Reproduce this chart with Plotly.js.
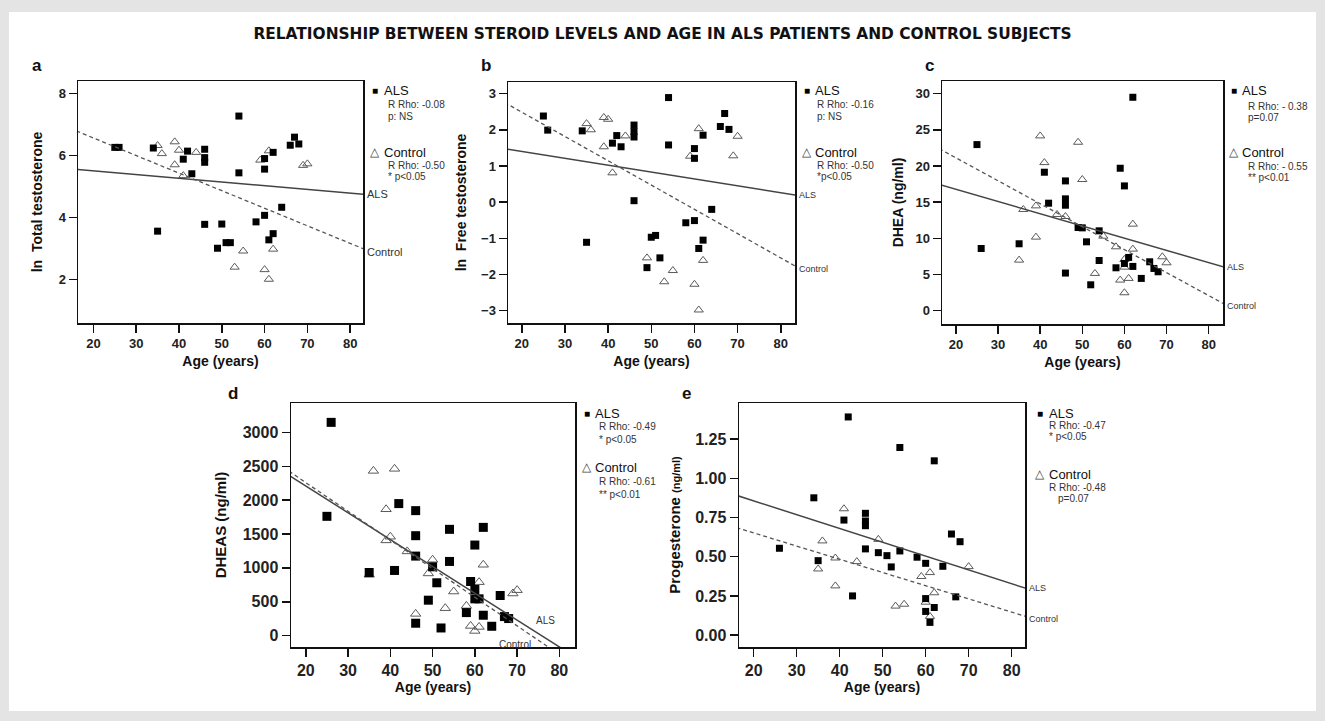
<!DOCTYPE html>
<html>
<head>
<meta charset="utf-8">
<script src="https://cdn.plot.ly/plotly-3.0.1.min.js"></script>
<style>html,body{margin:0;padding:0;background:#e4e4e4;}#chart{width:1325px;height:721px;}</style>
</head>
<body>
<div id="chart"></div>
<script>
// ---------------- DATA ----------------
const chartTitle = 'RELATIONSHIP BETWEEN STEROID LEVELS AND AGE IN ALS PATIENTS AND CONTROL SUBJECTS';
const panelLetters = ['a', 'b', 'c', 'd', 'e'];
const yTitles = ['ln  Total testosterone', 'ln  Free testosterone', 'DHEA (ng/ml)', 'DHEAS (ng/ml)',
                 'Progesterone <span style="font-size:11px">(ng/ml)</span>'];
const xTitle = 'Age (years)';
const ageTicks = [20, 30, 40, 50, 60, 70, 80];
const yTicksA = [2, 4, 6, 8];
const yTicksB = [-3, -2, -1, 0, 1, 2, 3];
const yTicksC = [0, 5, 10, 15, 20, 25, 30];
const yTicksD = [0, 500, 1000, 1500, 2000, 2500, 3000];
const yTicksE = [0, 0.25, 0.5, 0.75, 1.0, 1.25];

const seriesNames = ['ALS', 'Control'];
const rhoAls = ['R Rho: -0.08', 'R Rho: -0.16', 'R Rho: - 0.38', 'R Rho: -0.49', 'R Rho: -0.47'];
const pAls = ['p: NS', 'p: NS', 'p=0.07', '* p<0.05', '* p<0.05'];
const rhoCtrl = ['R Rho: -0.50', 'R Rho: -0.50', 'R Rho: - 0.55', 'R Rho: -0.61', 'R Rho: -0.48'];
const pCtrl = ['* p<0.05', '*p<0.05', '** p<0.01', '** p<0.01', 'p=0.07'];

// a: ln total testosterone
const alsAgeA = [25, 26, 34, 35, 41, 42, 43, 46, 46, 46, 46, 50, 49, 51, 52, 54, 54, 58, 60, 60, 60, 61, 62, 62, 64, 66, 67, 68];
const alsValA = [6.26, 6.26, 6.24, 3.56, 5.88, 6.14, 5.41, 6.20, 5.93, 5.78, 3.78, 3.79, 3.01, 3.19, 3.19, 7.27, 5.44, 3.86, 5.90, 5.56, 4.07, 3.28, 3.48, 6.10, 4.33, 6.33, 6.59, 6.37];
const ctrlAgeA = [35, 36, 39, 39, 40, 41, 44, 53, 55, 59, 60, 61, 61, 62, 69, 70];
const ctrlValA = [6.32, 6.06, 6.44, 5.70, 6.17, 5.35, 6.10, 2.40, 2.92, 5.85, 2.32, 6.15, 2.01, 2.98, 5.68, 5.73];

// b: ln free testosterone
const alsAgeB = [25, 26, 34, 35, 41, 42, 43, 46, 46, 46, 46, 49, 50, 51, 52, 54, 54, 58, 60, 60, 60, 61, 62, 62, 64, 66, 67, 68];
const alsValB = [2.38, 1.99, 1.97, -1.11, 1.63, 1.84, 1.53, 2.13, 1.95, 1.80, 0.04, -1.81, -0.97, -0.92, -1.54, 2.89, 1.58, -0.57, 1.48, 1.21, -0.51, -1.28, 1.85, -1.05, -0.20, 2.09, 2.45, 2.01];
const ctrlAgeB = [35, 36, 39, 39, 40, 41, 44, 49, 53, 55, 59, 60, 61, 61, 62, 69, 70];
const ctrlValB = [2.17, 2.00, 1.53, 2.34, 2.29, 0.81, 1.83, -1.54, -2.20, -1.89, 1.27, -2.27, 2.03, -2.98, -1.61, 1.28, 1.82];

// c: DHEA
const alsAgeC = [25, 26, 35, 41, 42, 46, 46, 46, 46, 49, 50, 51, 52, 54, 54, 58, 59, 60, 60, 61, 62, 62, 64, 66, 67, 68];
const alsValC = [22.96, 8.60, 9.25, 19.14, 14.86, 17.94, 15.46, 14.58, 5.20, 11.50, 11.45, 9.52, 3.58, 11.04, 6.94, 5.93, 19.69, 17.25, 6.53, 7.36, 29.50, 6.12, 4.46, 6.76, 5.84, 5.38];
const ctrlAgeC = [35, 36, 39, 39, 40, 41, 44, 46, 49, 50, 53, 55, 58, 59, 60, 60, 60, 61, 62, 62, 69, 70];
const ctrlValC = [6.99, 13.99, 10.17, 14.49, 24.16, 20.47, 13.30, 13.02, 23.28, 18.13, 5.15, 10.30, 8.83, 4.23, 7.08, 6.02, 2.48, 4.46, 11.96, 8.51, 7.45, 6.62];

// d: DHEAS
const alsAgeD = [26, 25, 35, 41, 42, 46, 46, 46, 46, 49, 50, 51, 52, 54, 54, 58, 59, 60, 60, 60, 61, 62, 62, 64, 66, 67, 68];
const alsValD = [3148, 1761, 932, 962, 1949, 1845, 1475, 1174, 183, 523, 1016, 780, 113, 1569, 1095, 340, 799, 1337, 681, 543, 543, 1598, 301, 138, 592, 281, 252];
const ctrlAgeD = [35, 36, 41, 39, 39, 40, 44, 46, 49, 50, 53, 55, 58, 59, 60, 61, 61, 62, 69, 70];
const ctrlValD = [898, 2432, 2462, 1865, 1406, 1460, 1243, 321, 918, 1120, 405, 651, 439, 143, 69, 128, 789, 1046, 622, 671];

// e: Progesterone
const alsAgeE = [26, 34, 35, 41, 42, 43, 46, 46, 46, 46, 49, 51, 52, 54, 54, 58, 60, 60, 60, 61, 62, 62, 64, 66, 67, 68];
const alsValE = [0.554, 0.876, 0.475, 0.734, 1.392, 0.250, 0.777, 0.728, 0.698, 0.550, 0.526, 0.507, 0.435, 0.537, 1.197, 0.497, 0.458, 0.233, 0.151, 0.081, 1.112, 0.176, 0.439, 0.645, 0.244, 0.596];
const ctrlAgeE = [35, 36, 39, 39, 41, 44, 49, 53, 55, 59, 60, 61, 61, 62, 70];
const ctrlValE = [0.422, 0.601, 0.314, 0.492, 0.806, 0.469, 0.611, 0.185, 0.197, 0.374, 0.210, 0.399, 0.119, 0.270, 0.437];

// regression line values at the two ages in fitAgeEnds
const fitAgeEnds = [16, 84];
const alsFitA = [5.555, 4.738],  ctrlFitA = [6.79, 2.94];
const alsFitB = [1.475, 0.187],  ctrlFitB = [2.754, -1.81];
const alsFitC = [17.46, 5.97],   ctrlFitC = [22.40, 0.82];
const alsFitD = [2368, -325],    ctrlFitD = [2428, -448];
const alsFitE = [0.892, 0.292],  ctrlFitE = [0.686, 0.113];

// ---------------- LAYOUT / STYLE ----------------
const W = 1325, H = 721;
const FONT = 'Liberation Sans, Arial, sans-serif';
const px = x => x / W;
const py = y => 1 - y / H;

const panels = [
  {box: [78, 81, 363, 323],   xr: [16.4, 83.0], yr: [0.6, 8.4],     yt: yTicksA, fmt: '',
   als: [alsAgeA, alsValA], ctrl: [ctrlAgeA, ctrlValA], fa: alsFitA, fc: ctrlFitA,
   tf: 13, ms: 7, ts: 8, letter: [37, 66], so: 13, leg: {mk: 375, tx: 382, sub: 386, ys: [91, 105, 116, 152, 165, 176]},
   lineLab: 'out', llSize: 11},
  {box: [508, 82, 795, 323],  xr: [16.8, 83.3], yr: [-3.34, 3.32],  yt: yTicksB, fmt: '',
   als: [alsAgeB, alsValB], ctrl: [ctrlAgeB, ctrlValB], fa: alsFitB, fc: ctrlFitB,
   tf: 13, ms: 7, ts: 8, letter: [486, 66], so: 11, leg: {mk: 807, tx: 813, sub: 815, ys: [91, 105, 116, 152, 165, 176]},
   lineLab: 'out', llSize: 9},
  {box: [942, 81, 1223, 324], xr: [16.7, 83.4], yr: [-1.84, 31.75], yt: yTicksC, fmt: '',
   als: [alsAgeC, alsValC], ctrl: [ctrlAgeC, ctrlValC], fa: alsFitC, fc: ctrlFitC,
   tf: 13, ms: 7, ts: 8, letter: [930, 66], so: 8, leg: {mk: 1234, tx: 1240, sub: 1246, ys: [91, 107, 117, 152, 166, 177]},
   lineLab: 'out', llSize: 9},
  {box: [291, 403, 575, 647], xr: [16.5, 83.7], yr: [-168, 3434],   yt: yTicksD, fmt: '',
   als: [alsAgeD, alsValD], ctrl: [ctrlAgeD, ctrlValD], fa: alsFitD, fc: ctrlFitD,
   tf: 16, ms: 9, ts: 9, letter: [233, 393], so: 12, leg: {mk: 587, tx: 593, sub: 597, ys: [413, 427, 440, 467, 481, 494]},
   lineLab: 'in', llSize: 10},
  {box: [739, 403, 1025, 647], xr: [16.6, 83.1], yr: [-0.076, 1.481], yt: yTicksE, fmt: '.2f',
   als: [alsAgeE, alsValE], ctrl: [ctrlAgeE, ctrlValE], fa: alsFitE, fc: ctrlFitE,
   tf: 16, ms: 7, ts: 8, letter: [686, 393], so: 11, leg: {mk: 1040, tx: 1047, sub: 1047, ys: [413, 426, 437, 474, 487, 498]},
   lineLab: 'out', llSize: 9}
];

const traces = [];
const annotations = [];
const layout = {
  width: W, height: H,
  margin: {l: 0, r: 0, t: 0, b: 0},
  paper_bgcolor: '#e4e4e4',
  plot_bgcolor: 'rgba(0,0,0,0)',
  showlegend: false,
  font: {family: FONT, color: '#111'},
  title: {text: '<b>' + chartTitle + '</b>', x: 0.5, xanchor: 'center', y: py(34), yref: 'container', yanchor: 'middle',
          font: {family: 'DejaVu Sans, ' + FONT, size: 15.4, color: '#111'}},
  shapes: [{type: 'rect', xref: 'paper', yref: 'paper', x0: px(9), x1: px(1316), y0: py(711), y1: py(12),
            fillcolor: '#ffffff', line: {width: 0}, layer: 'below'}],
  annotations: annotations
};

function interp(ends, x) {
  return ends[0] + (ends[1] - ends[0]) * (x - fitAgeEnds[0]) / (fitAgeEnds[1] - fitAgeEnds[0]);
}

panels.forEach((p, i) => {
  const n = i === 0 ? '' : String(i + 1);
  const xa = 'x' + n, ya = 'y' + n;
  const [l, t, r, b] = p.box;
  layout['xaxis' + n] = {
    domain: [px(l), px(r)], range: p.xr, anchor: ya, tickvals: ageTicks,
    ticks: 'outside', ticklen: 8, tickwidth: 1.5, tickcolor: '#111',
    showline: true, mirror: true, linecolor: '#111', linewidth: 1.5,
    showgrid: false, zeroline: false,
    tickfont: {family: FONT, size: p.tf, color: '#222', weight: 'bold'},
    title: {text: xTitle, font: {family: FONT, size: 14, color: '#111', weight: 'bold'}, standoff: i >= 3 ? 4 : 6}
  };
  layout['yaxis' + n] = {
    domain: [py(b), py(t)], range: p.yr, anchor: xa, tickvals: p.yt, tickformat: p.fmt,
    ticks: 'outside', ticklen: 8, tickwidth: 1.5, tickcolor: '#111',
    showline: true, mirror: true, linecolor: '#111', linewidth: 1.5,
    showgrid: false, zeroline: false,
    tickfont: {family: FONT, size: p.tf, color: '#222', weight: 'bold'},
    title: {text: yTitles[i], font: {family: FONT, size: i >= 3 ? 15 : 14, color: '#111', weight: 'bold'}, standoff: p.so}
  };
  // Control triangles (under the squares)
  traces.push({type: 'scatter', mode: 'markers', name: seriesNames[1], x: p.ctrl[0], y: p.ctrl[1], xaxis: xa, yaxis: ya,
    marker: {symbol: 'triangle-up-open', size: p.ts, color: '#5a5a5a', line: {width: 1, color: '#5a5a5a'}}, cliponaxis: true});
  // ALS squares
  traces.push({type: 'scatter', mode: 'markers', name: seriesNames[0], x: p.als[0], y: p.als[1], xaxis: xa, yaxis: ya,
    marker: {symbol: 'square', size: p.ms, color: '#000'}, cliponaxis: true});
  // fit lines
  traces.push({type: 'scatter', mode: 'lines', name: seriesNames[0] + ' fit', x: fitAgeEnds, y: p.fa, xaxis: xa, yaxis: ya,
    line: {color: '#444', width: 1.5}, hoverinfo: 'skip'});
  traces.push({type: 'scatter', mode: 'lines', name: seriesNames[1] + ' fit', x: fitAgeEnds, y: p.fc, xaxis: xa, yaxis: ya,
    line: {color: '#555', width: 1.3, dash: '4px,3px'}, hoverinfo: 'skip'});

  // panel letter
  annotations.push({text: '<b>' + panelLetters[i] + '</b>', xref: 'paper', yref: 'paper', x: px(p.letter[0]), y: py(p.letter[1]),
    xanchor: 'center', yanchor: 'middle', showarrow: false, font: {family: FONT, size: 17, color: '#111'}});

  // line labels
  if (p.lineLab === 'out') {
    [[seriesNames[0], p.fa, 0], [seriesNames[1], p.fc, 3]].forEach(([txt, ends, dy]) => {
      annotations.push({text: txt, xref: xa + ' domain', yref: ya, x: 1, y: interp(ends, p.xr[1]),
        xanchor: 'left', yanchor: 'middle', xshift: 2, yshift: -dy, showarrow: false,
        font: {family: FONT, size: p.llSize, color: '#333'}});
    });
  } else {
    annotations.push({text: seriesNames[0], xref: xa, yref: ya, x: 76.8, y: interp(p.fa, 76.8) + 260,
      xanchor: 'center', yanchor: 'middle', showarrow: false, font: {family: FONT, size: p.llSize, color: '#333'}});
    annotations.push({text: seriesNames[1], xref: xa, yref: ya, x: 69.5, y: interp(p.fc, 69.5) - 300,
      xanchor: 'center', yanchor: 'middle', showarrow: false, font: {family: FONT, size: p.llSize, color: '#333'}});
  }

  // legend block
  const g = p.leg, ys = g.ys;
  const A = (text, x, y, size, color, anchor) => annotations.push({text: text, xref: 'paper', yref: 'paper', x: px(x), y: py(y),
    xanchor: anchor || 'left', yanchor: 'middle', showarrow: false, font: {family: FONT, size: size, color: color}});
  A('■', g.mk, ys[0], 10, '#000', 'center');
  A(seriesNames[0], g.tx, ys[0], 13, '#111');
  A(rhoAls[i], g.sub, ys[1], 10, '#333');
  A(pAls[i], g.sub, ys[2], 10, '#333');
  A('△', g.mk, ys[3], 12, '#444', 'center');
  A(seriesNames[1], g.tx, ys[3], 13, '#111');
  A(rhoCtrl[i], g.sub, ys[4], 10, '#333');
  A(pCtrl[i], g.sub + (i === 4 ? 9 : 0), ys[5], 10, '#333');
});

Plotly.newPlot('chart', traces, layout, {displayModeBar: false, staticPlot: true});
</script>
</body>
</html>
